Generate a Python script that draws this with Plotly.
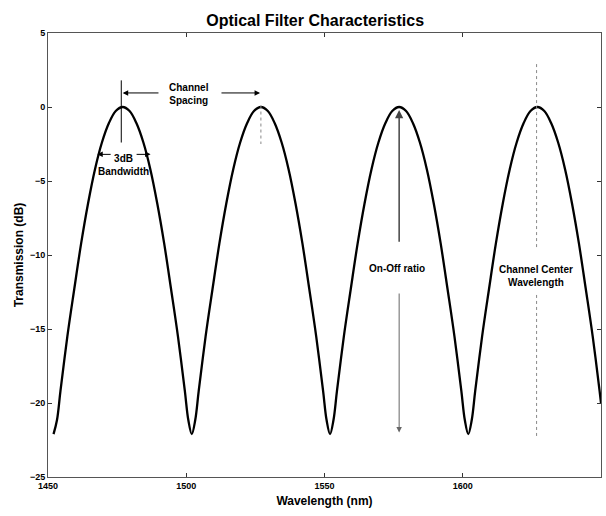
import plotly.graph_objects as go

# ---- data ----
wavelength_nm = [
    1452, 1453.25, 1454.5, 1457, 1459.5, 1462, 1464.5, 1467, 1469.5, 1472, 1474.5,
    1477, 1479.5, 1482, 1484.5, 1487, 1489.5, 1492, 1494.5, 1497, 1499.5, 1500.75,
    1502, 1503.25, 1504.5, 1507, 1509.5, 1512, 1514.5, 1517, 1519.5, 1522, 1524.5,
    1527, 1529.5, 1532, 1534.5, 1537, 1539.5, 1542, 1544.5, 1547, 1549.5, 1550.75,
    1552, 1553.25, 1554.5, 1557, 1559.5, 1562, 1564.5, 1567, 1569.5, 1572, 1574.5,
    1577, 1579.5, 1582, 1584.5, 1587, 1589.5, 1592, 1594.5, 1597, 1599.5, 1600.75,
    1602, 1603.25, 1604.5, 1607, 1609.5, 1612, 1614.5, 1617, 1619.5, 1622, 1624.5,
    1627, 1629.5, 1632, 1634.5, 1637, 1639.5, 1642, 1644.5, 1647, 1649.5, 1650,
]
transmission_db = [
    -22.1, -21.15, -19.2, -15.5, -12.3, -9.2, -6.5, -4.2, -2.4, -1.1, -0.27,
    0.0, -0.27, -1.1, -2.4, -4.2, -6.5, -9.2, -12.3, -15.5, -19.2, -21.15,
    -22.1, -21.15, -19.2, -15.5, -12.3, -9.2, -6.5, -4.2, -2.4, -1.1, -0.27,
    0.0, -0.27, -1.1, -2.4, -4.2, -6.5, -9.2, -12.3, -15.5, -19.2, -21.15,
    -22.1, -21.15, -19.2, -15.5, -12.3, -9.2, -6.5, -4.2, -2.4, -1.1, -0.27,
    0.0, -0.27, -1.1, -2.4, -4.2, -6.5, -9.2, -12.3, -15.5, -19.2, -21.15,
    -22.1, -21.15, -19.2, -15.5, -12.3, -9.2, -6.5, -4.2, -2.4, -1.1, -0.27,
    0.0, -0.27, -1.1, -2.4, -4.2, -6.5, -9.2, -12.3, -15.5, -19.2, -20.0,
]
x_ticks = [1450, 1500, 1550, 1600, 1650]
y_ticks = [-25, -20, -15, -10, -5, 0, 5]

FONT = "Liberation Sans, Arial, Helvetica, sans-serif"
AXIS_COLOR = "#555555"

fig = go.Figure()
fig.add_trace(go.Scatter(
    x=wavelength_nm, y=transmission_db, mode="lines",
    line=dict(color="black", width=2.3, shape="spline", smoothing=1.0),
    showlegend=False, hoverinfo="skip",
))

shapes = [
    # solid marker line at first peak
    dict(type="line", xref="x", yref="y", x0=1476.5, x1=1476.5, y0=1.8, y1=-2.4,
         line=dict(color="black", width=1)),
    # dotted marker at second peak
    dict(type="line", xref="x", yref="y", x0=1527, x1=1527, y0=0.1, y1=-2.5,
         line=dict(color="#888888", width=1, dash="dot")),
    # channel centre wavelength line (two segments around the text)
    dict(type="line", xref="x", yref="y", x0=1626.7, x1=1626.7, y0=2.9, y1=-9.5,
         line=dict(color="#888888", width=1, dash="dot")),
    dict(type="line", xref="x", yref="y", x0=1626.7, x1=1626.7, y0=-12.7, y1=-22.3,
         line=dict(color="#888888", width=1, dash="dot")),
]

txt_font = dict(family=FONT, size=10, color="black", weight="bold")

def arrow(x, y, ax, ay, color="black", width=1):
    return dict(x=x, y=y, ax=ax, ay=ay, xref="x", yref="y", axref="x", ayref="y",
                text="", showarrow=True, arrowhead=2, arrowsize=1.1,
                arrowwidth=width, arrowcolor=color)

annotations = [
    # channel spacing
    arrow(1477, 0.95, 1490.5, 0.95),
    arrow(1526.7, 0.95, 1512.2, 0.95),
    dict(x=1501, y=0.87, xref="x", yref="y", text="Channel<br>Spacing",
         showarrow=False, font=txt_font, align="center"),
    # 3dB bandwidth
    arrow(1467.8, -3.2, 1473.2, -3.2),
    arrow(1487.1, -3.2, 1481.5, -3.2),
    dict(x=1477.3, y=-3.9, xref="x", yref="y", text="3dB<br>Bandwidth",
         showarrow=False, font=txt_font, align="center"),
    # on-off ratio
    arrow(1577, -0.2, 1577, -9.2, color="#444444", width=1.5),
    arrow(1577, -22.0, 1577, -12.5, color="#666666", width=1),
    dict(x=1576.3, y=-10.9, xref="x", yref="y", text="On-Off ratio",
         showarrow=False, font=txt_font),
    # channel centre wavelength
    dict(x=1626.5, y=-11.4, xref="x", yref="y", text="Channel Center<br>Wavelength",
         showarrow=False, font=txt_font, align="center"),
]

axis_common = dict(
    showline=True, linecolor=AXIS_COLOR, linewidth=1, mirror="ticks",
    ticks="inside", ticklen=4, tickcolor="#333333", tickwidth=1,
    showgrid=False, zeroline=False,
    tickfont=dict(family=FONT, size=9, color="black", weight="bold"),
)

fig.update_layout(
    width=606, height=516,
    margin=dict(l=48, r=5, t=33, b=39),
    paper_bgcolor="white", plot_bgcolor="white",
    title=dict(text="Optical Filter Characteristics", x=0.52, xanchor="center",
               y=0.96, yref="container", yanchor="middle",
               font=dict(family=FONT, size=16, color="black", weight="bold")),
    xaxis=dict(range=[1450, 1650], tickvals=x_ticks,
               title=dict(text="Wavelength (nm)", standoff=6,
                          font=dict(family=FONT, size=12, color="black", weight="bold")),
               **axis_common),
    yaxis=dict(range=[-25, 5], tickvals=y_ticks,
               title=dict(text="Transmission (dB)", standoff=3,
                          font=dict(family=FONT, size=12, color="black", weight="bold")),
               **axis_common),
    shapes=shapes,
    annotations=annotations,
)

fig.write_html("out.html")
